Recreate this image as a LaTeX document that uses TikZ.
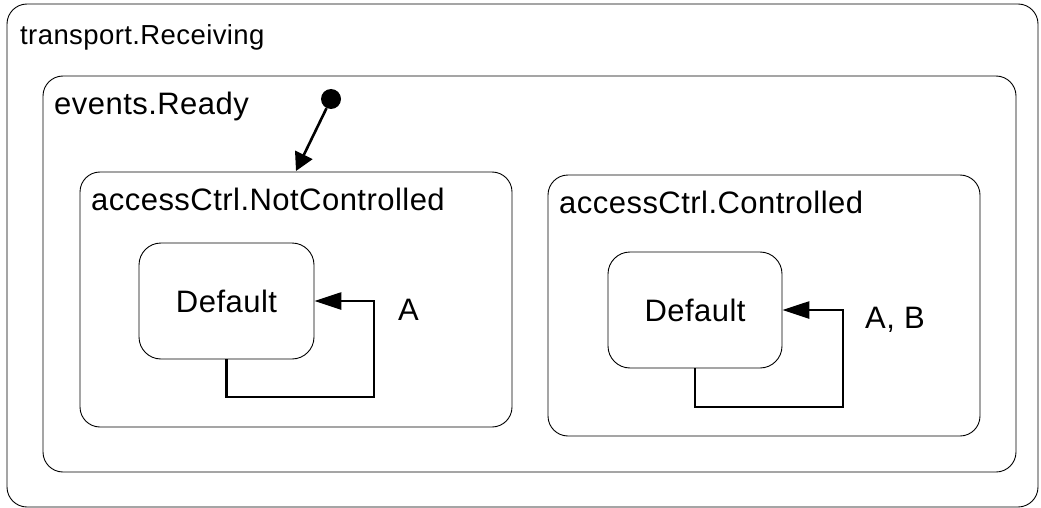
\documentclass[tikz,border=0pt]{standalone}
\usepackage{fontspec}
\setmainfont{Liberation Sans}[LetterSpace=1.5]
\usepackage{tikz}
\usetikzlibrary{arrows.meta, shapes, calc}

\begin{document}
\begin{tikzpicture}[x=1pt, y=-1pt]

    % Picture frame
    \useasboundingbox (0,0) rectangle (1041,508);

    % States
    \tikzset{stBox/.style={draw=black, line width=0.9pt, rounded corners=20pt, inner sep=0pt}}
    \tikzset{smpSt/.style={stBox, rounded corners=22pt, font=\fontsize{31}{36}\selectfont}}
    \tikzset{stName/.style={anchor=base west, inner sep=0pt, font=\fontsize{31}{36}\selectfont}}

    % Transitions
    \tikzset{tr/.style={line width=2.8pt, -{Triangle[length=27pt, width=17pt]}}}
    \tikzset{trInit/.style={line width=2.6pt, -{Triangle[length=18pt, width=19pt]}}}
    \tikzset{trLbl/.style={anchor=base west, inner sep=0pt, font=\fontsize{31}{36}\selectfont}}
    \tikzset{initDot/.style={circle, fill=black, inner sep=0pt, minimum size=20pt}}

    % State boxes
    \node (recv) [stBox, minimum width=1031pt, minimum height=503pt] at (522.5,255.5) {};
    	\node (ready) [stBox, minimum width=973pt, minimum height=396pt] at (529.5,274) {};
    		\node (notCtrl) [stBox, minimum width=432pt, minimum height=255pt] at (296,299.5) {};
    			\node (def1) [smpSt, minimum width=175pt, minimum height=116pt] at (226.5,301) {Default};
    		\node (ctrl) [stBox, minimum width=432pt, minimum height=261pt] at (764,305.5) {};
    			\node (def2) [smpSt, minimum width=174pt, minimum height=116pt] at (695,310) {Default};

    % State names
    \node (recvL) [stName, font=\fontsize{27.5}{33}\selectfont] at (20,45) {transport.Receiving};
    	\node (readyL) [stName] at (54,115) {events.Ready};
    		\node (notCtrlL) [stName] at (91,210) {accessCtrl.NotControlled};
    		\node (ctrlL) [stName] at (559,213) {accessCtrl.Controlled};

    % Initial state
    \node (init) [initDot] at (331,99) {};
    \coordinate (initEnd) at (296,171);
    \draw[trInit] (init) -- (initEnd);

    % Self transitions
    \coordinate (loop1) at (374,397);
    \draw[tr] (def1.south) |- (loop1) |- (def1.east);
    \node (loop1L) [trLbl] at (398,320) {A};

    \coordinate (loop2) at (843,407);
    \draw[tr] (def2.south) |- (loop2) |- (def2.east);
    \node (loop2L) [trLbl] at (865,328) {A, B};

\end{tikzpicture}
\end{document}
